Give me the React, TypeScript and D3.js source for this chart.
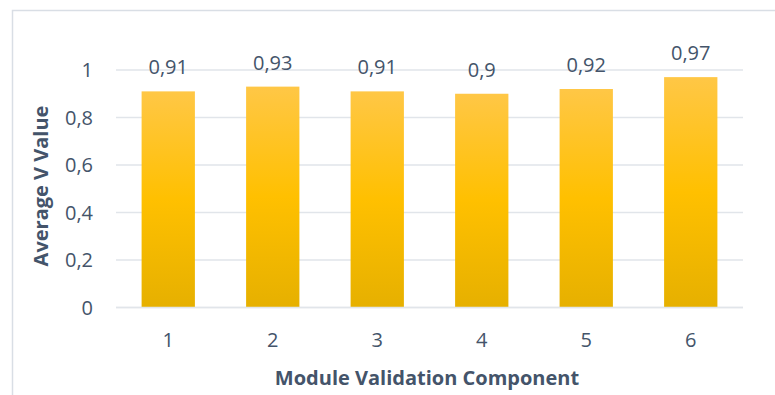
import React from "react";
import * as d3 from "d3";

const categories = ["1", "2", "3", "4", "5", "6"];
const values = [0.91, 0.93, 0.91, 0.9, 0.92, 0.97];
const yTicks = [0, 0.2, 0.4, 0.6, 0.8, 1];
const xTitle = "Module Validation Component";
const yTitle = "Average V Value";

const W = 775;
const H = 395;
const FONT = "'Open Sans', sans-serif";
const TEXT = "#44546A";
const FS = 20;

const fmt = (v: number) => String(v).replace(".", ",");

export default function App() {
  const x = d3.scaleBand<string>().domain(categories).range([116, 743]).paddingInner(0.49).paddingOuter(0.245);
  const y = d3.scaleLinear().domain([0, 1]).range([307.5, 70]);

  return (
    <svg width={W} height={H} style={{ position: "absolute", left: 0, top: 0 }}>
      <defs>
        <linearGradient id="barFill" x1="0" y1="0" x2="0" y2="1">
          <stop offset="0%" stopColor="#FFC746" />
          <stop offset="50%" stopColor="#FFC000" />
          <stop offset="100%" stopColor="#E6B000" />
        </linearGradient>
      </defs>
      <rect x={0} y={0} width={W} height={H} fill="#fff" />
      <path d={`M12.5,${H} V10.5 H${W}`} fill="none" stroke="#D9DEE5" strokeWidth={1.5} />
      {yTicks.map((t) => (
        <g key={t}>
          <line x1={116} x2={743} y1={y(t)} y2={y(t)} stroke="#E1E5EA" strokeWidth={1.5} />
          <text x={93} y={y(t)} dy="0.36em" textAnchor="end" fontFamily={FONT} fontSize={FS} fill={TEXT}>
            {fmt(t)}
          </text>
        </g>
      ))}
      {categories.map((c, i) => (
        <g key={c}>
          <rect
            x={x(c)}
            y={y(values[i])}
            width={x.bandwidth()}
            height={y(0) - y(values[i])}
            fill="url(#barFill)"
          />
          <text
            x={(x(c) as number) + x.bandwidth() / 2}
            y={y(values[i]) - 17}
            textAnchor="middle"
            fontFamily={FONT}
            fontSize={FS}
            fill={TEXT}
          >
            {fmt(values[i])}
          </text>
          <text
            x={(x(c) as number) + x.bandwidth() / 2}
            y={340}
            dy="0.36em"
            textAnchor="middle"
            fontFamily={FONT}
            fontSize={FS}
            fill={TEXT}
          >
            {c}
          </text>
        </g>
      ))}
      <line x1={116} x2={743} y1={y(0)} y2={y(0)} stroke="#E1E5EA" strokeWidth={1.5} />
      <text x={427} y={378} dy="0.36em" textAnchor="middle" fontFamily={FONT} fontSize={FS} fontWeight="bold" fill={TEXT}>
        {xTitle}
      </text>
      <text
        transform={`translate(41,186) rotate(-90)`}
        dy="0.36em"
        textAnchor="middle"
        fontFamily={FONT}
        fontSize={FS}
        fontWeight="bold"
        fill={TEXT}
      >
        {yTitle}
      </text>
    </svg>
  );
}
